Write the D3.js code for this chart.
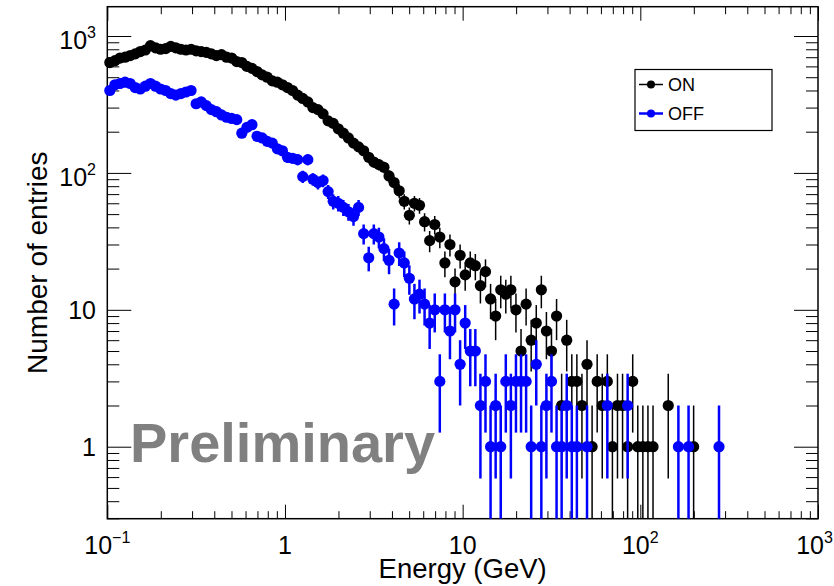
<!DOCTYPE html>
<html><head><meta charset="utf-8">
<script src="https://cdn.jsdelivr.net/npm/d3@7"></script>
<style>
body{margin:0;background:#fff;}
svg{display:block;}
text{font-family:"Liberation Sans",Arial,Helvetica,sans-serif;}
</style></head><body>
<svg id="c" width="834" height="586"></svg>
<script>
// Histogram binning (log10 energy axis): 35 bins per decade starting at 0.1 GeV
const binLogMin = -1;
const binsPerDecade = 35;

// Counts per bin (bin index 0 .. 120)
const onCounts = [
 640,660,690,700,720,740,770,790,850,820,
 800,810,840,820,800,790,800,780,770,760,
 740,720,730,700,690,650,640,600,580,550,
 520,500,470,460,440,420,400,370,350,330,
 300,290,270,240,230,210,195,180,165,155,
 145,130,120,115,110,95,85,74,62,49,
 60,58,44,32,42,34,22,30,16,25,
 18,22,21,15,19,12,9,14,13,14,
 10,5,11,6,8,14,7,5,9,2,
 6,3,3,2,4,1,3,2,3,1,
 2,2,1,3,1,1,1,1,0,0,
 2,0,0,0,0,1,0,0,0,0,
 0
];
const offCounts = [
 400,440,450,460,450,420,410,430,450,430,
 410,400,380,370,380,390,400,320,330,310,
 290,280,265,255,250,245,195,215,225,185,
 180,170,165,150,145,130,128,125,94,125,
 90,85,88,73,62,60,56,52,48,56,
 36,24,36,34,28,23,11,26,22,17,
 12,13,11,8,10,3,10,7,10,4,
 8,5,5,2,3,1,2,1,3,2,
 3,3,3,1,4,1,2,3,1,1,
 2,1,1,0,1,0,0,0,2,0,
 0,0,2,0,0,0,0,0,0,0,
 0,0,1,0,1,0,0,0,0,0,
 1
];
const seriesNames = ["ON", "OFF"];
const seriesColors = ["#000000", "#0000ff"];

const xTickValues = [0.1, 1, 10, 100, 1000];
const xTickLabels = [["10","\u22121"], ["1",""], ["10",""], ["10","2"], ["10","3"]];
const xMinorValues = [0.2,0.3,0.4,0.5,0.6,0.7,0.8,0.9, 2,3,4,5,6,7,8,9, 20,30,40,50,60,70,80,90, 200,300,400,500,600,700,800,900];
const yTickValues = [1, 10, 100, 1000];
const yTickLabels = [["1",""], ["10",""], ["10","2"], ["10","3"]];
const yMinorValues = [0.3,0.4,0.5,0.6,0.7,0.8,0.9, 2,3,4,5,6,7,8,9, 20,30,40,50,60,70,80,90, 200,300,400,500,600,700,800,900];

const xTitle = "Energy (GeV)";
const yTitle = "Number of entries";
const watermark = "Preliminary";

// ---- layout
const L = 107.3, R = 818, T = 6.7, B = 518.7, W = 834;
const svg = d3.select("#c");
const x = d3.scaleLog().domain([0.1, 1000]).range([L, R]);
const y = d3.scaleLog().domain([0.298, 1637]).range([B, T]);

svg.append("defs").append("clipPath").attr("id","plotclip")
  .append("rect").attr("x",L).attr("y",T).attr("width",R-L).attr("height",B-T);

// ---- axes ticks
function styleAxis(g){
  g.select(".domain").remove();
  g.selectAll("text").remove();
  g.selectAll(".tick line").attr("stroke","#000").attr("stroke-width",1);
}
const axisDefs = [
  [d3.axisBottom(x), xTickValues, 14, `translate(0,${B})`],
  [d3.axisBottom(x), xMinorValues, 7.5, `translate(0,${B})`],
  [d3.axisTop(x), xTickValues, 14, `translate(0,${T})`],
  [d3.axisTop(x), xMinorValues, 7.5, `translate(0,${T})`],
  [d3.axisLeft(y), yTickValues, 24, `translate(${L},0)`],
  [d3.axisLeft(y), yMinorValues, 12, `translate(${L},0)`],
  [d3.axisRight(y), yTickValues, 24, `translate(${R},0)`],
  [d3.axisRight(y), yMinorValues, 12, `translate(${R},0)`]
];
axisDefs.forEach(([ax, vals, len, tr])=>{
  svg.append("g").attr("transform",tr)
    .call(ax.tickValues(vals).tickSize(-len).tickFormat(""))
    .call(styleAxis);
});

// frame
svg.append("rect").attr("x",L).attr("y",T).attr("width",R-L).attr("height",B-T)
  .attr("fill","none").attr("stroke","#000").attr("stroke-width",1.5);

// ---- tick labels
const labFont = 25, supFont = 16;
xTickValues.forEach((v,i)=>{
  const t = svg.append("text").attr("x",x(v)).attr("y",554)
    .attr("text-anchor","middle").attr("font-size",labFont).attr("fill","#000");
  t.append("tspan").text(xTickLabels[i][0]);
  if (xTickLabels[i][1]) t.append("tspan").attr("dy",-11).attr("font-size",supFont).text(xTickLabels[i][1]);
  // keep the label inside the picture
  const bb = t.node().getBBox();
  if (bb.x + bb.width > W - 1) t.attr("x", x(v) - (bb.x + bb.width - (W - 1)));
});
yTickValues.forEach((v,i)=>{
  const sup = yTickLabels[i][1];
  const t = svg.append("text").attr("x",96).attr("y",y(v)+(sup?13:9))
    .attr("text-anchor","end").attr("font-size",labFont).attr("fill","#000");
  t.append("tspan").text(yTickLabels[i][0]);
  if (sup) t.append("tspan").attr("dy",-11).attr("font-size",supFont).text(sup);
});

// ---- titles
svg.append("text").attr("x",(L+R)/2).attr("y",578).attr("text-anchor","middle")
  .attr("font-size",27.5).attr("fill","#000").text(xTitle);
svg.append("text").attr("transform",`translate(47,${(T+B)/2}) rotate(-90)`)
  .attr("text-anchor","middle").attr("font-size",28).attr("fill","#000").text(yTitle);

// ---- watermark
svg.append("text").attr("x",130).attr("y",462).attr("font-size",56)
  .attr("font-weight","bold").attr("fill","#808080").text(watermark);

// ---- data
function binCenter(i){ return Math.pow(10, binLogMin + (i+0.5)/binsPerDecade); }
const allSeries = [onCounts, offCounts];
const lineW = [1.5, 2.5];
allSeries.forEach((counts, s)=>{
  const pts = counts.map((c,i)=>({e:binCenter(i), c})).filter(d=>d.c>0);
  const g = svg.append("g");
  g.append("g").attr("clip-path","url(#plotclip)").selectAll("line").data(pts).join("line")
    .attr("x1",d=>x(d.e)).attr("x2",d=>x(d.e))
    .attr("y1",d=>y(d.c+Math.sqrt(d.c)))
    .attr("y2",d=>{const lo=d.c-Math.sqrt(d.c); return lo>0? y(lo) : B+2;})
    .attr("stroke",seriesColors[s]).attr("stroke-width",lineW[s]);
  g.selectAll("circle").data(pts).join("circle")
    .attr("cx",d=>x(d.e)).attr("cy",d=>y(d.c)).attr("r",5.6)
    .attr("fill",seriesColors[s]);
});

// ---- legend
const lg = svg.append("g");
lg.append("rect").attr("x",635).attr("y",69.5).attr("width",137).attr("height",61)
  .attr("fill","#fff").attr("stroke","#000").attr("stroke-width",1.2);
seriesNames.forEach((n,i)=>{
  const yy = 84.5 + i*29;
  lg.append("line").attr("x1",639).attr("x2",663).attr("y1",yy).attr("y2",yy)
    .attr("stroke",seriesColors[i]).attr("stroke-width",lineW[i]);
  lg.append("circle").attr("cx",651).attr("cy",yy).attr("r",4).attr("fill",seriesColors[i]);
  lg.append("text").attr("x",668).attr("y",yy+6.5).attr("font-size",18).attr("fill","#000").text(n);
});
</script>
</body></html>
